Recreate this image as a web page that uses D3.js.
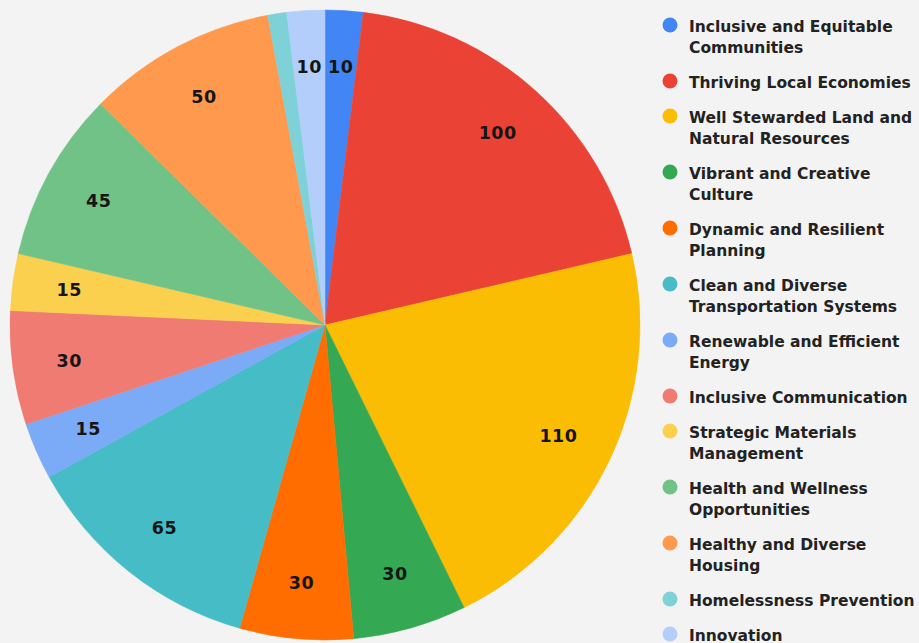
<!DOCTYPE html>
<html>
<head>
<meta charset="utf-8">
<script src="https://cdn.jsdelivr.net/npm/d3@7"></script>
<style>
  html, body { margin: 0; padding: 0; background: #f3f3f3; }
  svg { display: block; }
</style>
</head>
<body>
<svg id="chart" width="919" height="643"></svg>
<script>
const categories = [
  "Inclusive and Equitable Communities",
  "Thriving Local Economies",
  "Well Stewarded Land and Natural Resources",
  "Vibrant and Creative Culture",
  "Dynamic and Resilient Planning",
  "Clean and Diverse Transportation Systems",
  "Renewable and Efficient Energy",
  "Inclusive Communication",
  "Strategic Materials Management",
  "Health and Wellness Opportunities",
  "Healthy and Diverse Housing",
  "Homelessness Prevention",
  "Innovation"
];
const values = [10, 100, 110, 30, 30, 65, 15, 30, 15, 45, 50, 5, 10];
const colors = ["#4285f4", "#ea4335", "#fbbc04", "#34a853", "#ff6d01", "#46bdc6",
                "#7baaf7", "#f07b72", "#fcd04f", "#71c287", "#ff994d", "#7ed1d7", "#b3cefb"];

const W = 919, H = 643;
const cx = 325, cy = 325, R = 315;
const fontFam = "'DejaVu Sans', Verdana, sans-serif";

const svg = d3.select("#chart");
svg.append("rect").attr("width", W).attr("height", H).attr("fill", "#f3f3f3");

const data = categories.map((c, i) => ({ name: c, value: values[i], color: colors[i] }));

const pie = d3.pie().value(d => d.value).sort(null);
const arcs = pie(data);
const arc = d3.arc().innerRadius(0).outerRadius(R);
const labelArc = d3.arc().innerRadius(R * 0.82).outerRadius(R * 0.82);

const g = svg.append("g").attr("transform", `translate(${cx},${cy})`);
g.selectAll("path.slice").data(arcs).enter().append("path")
  .attr("class", "slice")
  .attr("d", arc)
  .attr("fill", d => d.data.color)
  .attr("stroke", d => d.data.color)
  .attr("stroke-width", 0.5);

g.selectAll("text.lbl").data(arcs.filter(a => (a.endAngle - a.startAngle) * 180 / Math.PI >= 5))
  .enter().append("text")
  .attr("class", "lbl")
  .attr("transform", d => `translate(${labelArc.centroid(d)})`)
  .attr("text-anchor", "middle")
  .attr("dy", "0.36em")
  .attr("font-family", fontFam)
  .attr("font-weight", "bold")
  .attr("font-size", 17.5)
  .attr("letter-spacing", 0.5)
  .attr("fill", "#151515")
  .text(d => d.data.value);

// Legend
const legX = 670, textX = 689, maxW = 231;
const lineH = 21, gap = 14;
const leg = svg.append("g");
let y = 32;
data.forEach(d => {
  const t = leg.append("text")
    .attr("x", textX).attr("y", y)
    .attr("font-family", fontFam)
    .attr("font-weight", "bold")
    .attr("font-size", 15.5)
    .attr("fill", "#222");
  const words = d.name.split(" ");
  let line = [];
  let lines = 0;
  let ts = t.append("tspan").attr("x", textX).attr("y", y);
  words.forEach(w => {
    line.push(w);
    ts.text(line.join(" "));
    if (ts.node().getComputedTextLength() > maxW && line.length > 1) {
      line.pop();
      ts.text(line.join(" "));
      line = [w];
      lines++;
      ts = t.append("tspan").attr("x", textX).attr("y", y + lines * lineH).text(w);
    }
  });
  leg.append("circle").attr("cx", legX).attr("cy", y - 7).attr("r", 7.5).attr("fill", d.color);
  y += (lines + 1) * lineH + gap;
});
</script>
</body>
</html>
